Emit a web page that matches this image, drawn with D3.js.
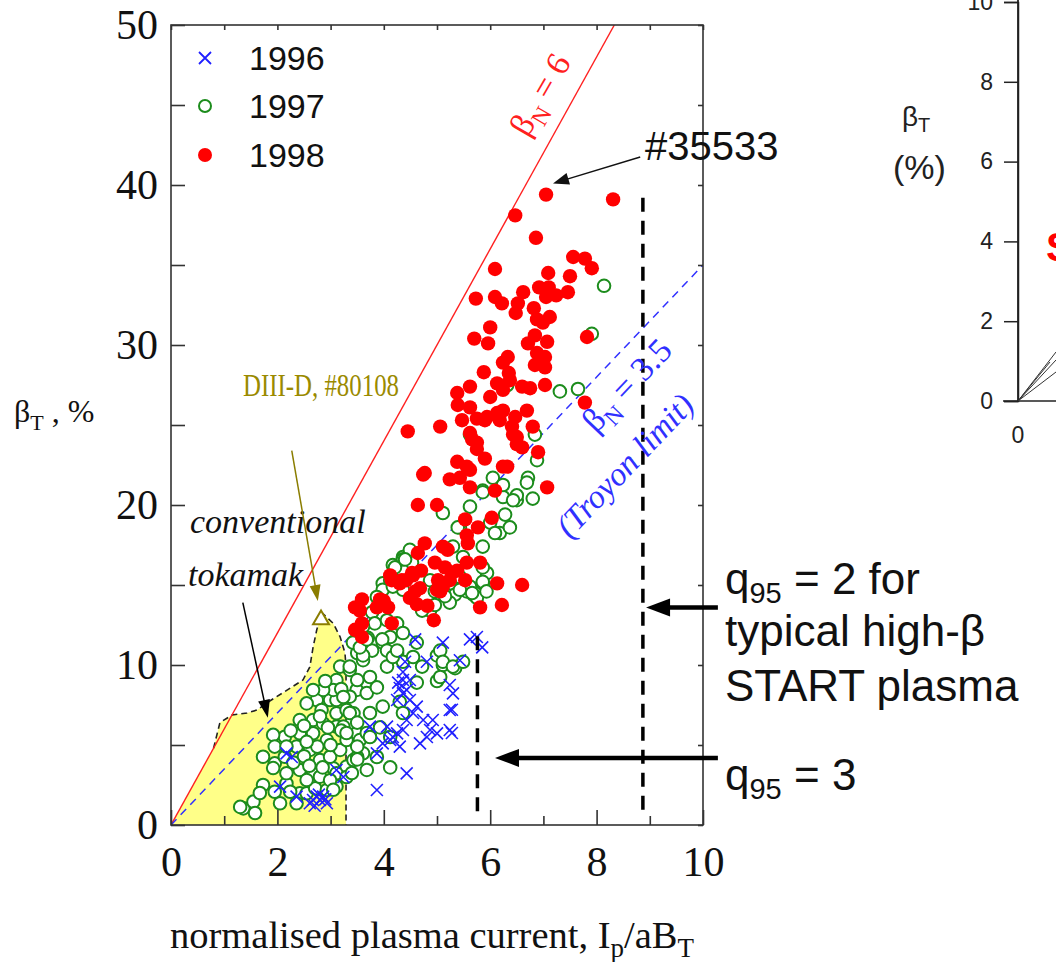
<!DOCTYPE html>
<html><head><meta charset="utf-8">
<script src="https://cdn.jsdelivr.net/npm/d3@7"></script>
<style>body{margin:0;background:#fff;overflow:hidden}svg{display:block}</style>
</head><body><svg id="c" width="1056" height="962"></svg>
<script>
// ---------------- DATA ----------------
const xTicks = [0, 2, 4, 6, 8, 10];
const yTicks = [0, 10, 20, 30, 40, 50];
const legendYears = ["1996", "1997", "1998"];

const s1996 = [[5.11,11.4],[5.43,10.3],[5.75,11.75],[5.85,11.1],[4.81,10.2],[4.36,9.06],[4.30,8.56],[4.43,8.44],[4.49,9.06],[4.36,8.23],[4.25,7.81],[4.49,7.81],[4.62,7.4],[4.55,7.0],[4.43,6.56],[4.36,5.94],[4.25,5.73],[4.12,5.31],[3.98,5.1],[3.87,4.48],[4.17,5.5],[4.30,4.9],[4.74,6.56],[4.92,6.56],[4.87,5.94],[4.81,5.5],[4.68,5.1],[5.0,5.73],[5.24,7.19],[5.3,8.23],[5.24,5.94],[4.43,3.23],[3.87,2.19],[3.74,6.15],[4.06,6.15],[2.74,1.77],[2.80,1.56],[2.86,1.77],[2.61,1.36],[2.67,1.56],[2.93,1.36],[2.36,1.77],[2.17,4.48],[2.05,2.4],[3.11,3.44],[3.24,3.0],[4.59,11.6],[4.36,9.56],[4.27,8.9],[5.24,8.75],[2.27,4.25],[4.4,10.2],[2.7,1.2],[2.78,1.9],[2.9,1.6],[5.62,11.6],[5.28,7.2],[5.28,5.75]];

const s1997 = [[1.36,1.04],[1.55,1.46],[1.73,2.5],[1.95,2.08],[2.17,2.6],[2.42,1.98],[2.05,1.36],[2.36,1.36],[2.55,1.98],[2.71,2.3],[2.93,2.19],[3.11,2.4],[3.05,3.54],[2.67,3.23],[2.42,3.44],[2.17,3.23],[1.95,3.85],[1.73,4.27],[2.14,4.27],[2.36,4.9],[2.61,4.69],[2.80,4.06],[2.99,4.27],[3.18,4.69],[2.93,5.31],[2.67,5.73],[2.42,5.73],[2.14,5.52],[1.92,5.63],[1.95,4.9],[2.17,4.9],[2.42,6.56],[2.67,6.56],[2.86,6.35],[3.11,6.98],[2.99,7.81],[2.74,7.81],[2.55,7.6],[2.83,7.19],[3.11,7.81],[3.30,7.19],[3.43,6.98],[3.11,9.06],[3.18,9.9],[3.36,9.69],[3.55,8.85],[3.68,8.85],[3.49,8.44],[3.36,8.02],[3.05,8.44],[2.86,8.44],[2.67,8.44],[3.11,6.15],[3.24,6.15],[3.30,5.31],[3.49,5.73],[3.55,5.31],[3.61,4.48],[3.68,3.44],[3.74,5.52],[3.30,3.65],[3.43,4.06],[3.11,3.23],[2.80,3.02],[2.55,2.81],[2.24,2.08],
[1.30,1.13],[1.58,0.75],[1.67,2.0],[1.92,3.56],
[2.3,3.9],[2.5,4.3],[2.75,4.9],[3.0,5.0],[2.6,3.7],[2.85,3.6],[3.2,5.9],[2.95,6.1],[2.5,6.2],[2.25,5.9],[3.2,8.5],[2.9,9.0],[2.55,5.2],[2.8,6.8],
[3.5,10.75],[3.36,9.9],[3.61,10.3],[3.74,9.25],[3.5,9.06],[3.68,8.25],[3.87,8.6],[3.98,11.4],[4.12,11.75],[4.25,10.75],[4.06,9.9],[3.24,8.0],[3.36,7.0],[3.5,6.4],[3.3,5.75],[3.74,7.0],[3.68,5.75],[3.5,4.25],[3.3,3.0],[2.99,2.8],[3.05,2.2],
[4.36,10.2],[5.0,10.6],[5.11,10.0],[5.34,9.8],[5.0,9.0],[4.62,8.9],[3.98,7.4],[4.3,7.7],[4.36,7.0],[3.74,5.5],[3.93,6.1],[4.12,5.5],[3.87,4.25],[4.12,3.6],[3.5,4.9],[3.5,4.1],[3.4,3.25],
[3.78,13.3],[3.83,12.6],[3.70,11.7],[3.78,10.9],[3.61,10.6],[3.97,11.6],[4.06,10.9],[4.17,10.5],[4.62,11.4],[5.06,10.9],[5.11,10.2],[5.3,9.9],[5.49,10.2],[4.25,10.9],[4.55,10.5],[4.72,9.9],[5.06,9.25],
[4.36,16.75],[4.17,16.25],[4.53,16.4],[3.98,15.1],[4.21,15.3],[5.28,15.1],[5.47,14.9],[5.56,14.6],[5.34,14.4],[5.24,13.9],[5.68,14.4],[5.86,15.1],[5.94,15.75],[4.87,13.4],[4.96,13.75],[4.72,13.4],
[5.11,19.5],[5.62,19.9],[5.86,20.9],[6.24,20.5],[6.5,20.3],[6.0,18.9],[6.18,18.25],[5.86,17.4],[6.37,18.6],[5.43,18.6],[5.3,17.4],[5.49,16.75],[5.86,16.1],[5.43,15.5],[5.62,14.9],[5.75,14.2],
[4.36,16.6],[4.49,17.2],[4.12,15.3],[4.36,14.7],[3.98,14.7],[3.87,14.25],[4.06,12.8],[4.25,12.6],[4.36,12.0],[3.61,12.4],[3.5,12.0],[3.42,11.4],[3.55,11.1],[3.68,11.6],
[8.14,33.7],[7.91,30.7],[7.31,27.1],[7.65,27.25],[6.32,27.5],[5.62,24.4],[6.84,24.4],[6.88,22.8],[6.05,21.7],[6.71,21.7],[6.24,21.25],[5.86,20.8],[6.69,21.4],[6.8,20.4],[6.5,20.6],[6.43,20.3],[6.28,19.4],[6.09,18.25],[5.39,18.6],[4.21,16.1],[4.4,16.6],[4.17,14.9],[5.43,14.7],[5.66,14.5],[5.86,15.2],[5.93,14.6],[4.87,15.3],[4.96,14.6],[5.15,14.3]];

const s1998 = [[7.05,39.4],[8.31,39.1],[6.47,38.1],[6.86,36.7],[7.56,35.5],[7.78,35.4],[7.91,34.8],[6.09,34.75],[7.09,34.5],[7.5,34.3],[6.92,33.6],[7.1,33.6],[6.62,33.3],[7.46,33.3],[7.24,33.1],[5.73,32.9],[6.09,33.0],[6.22,32.6],[7.05,33.0],[6.52,32.6],[6.82,32.3],[6.48,32.0],[7.12,31.75],[6.88,31.6],[6.99,31.4],[6.0,31.1],[5.70,30.4],[5.96,30.1],[6.84,30.6],[6.71,30.1],[7.07,30.2],[7.82,30.5],[6.88,29.5],[7.03,29.25],[6.33,29.25],[6.24,28.9],[6.84,28.75],[7.03,28.6],[5.88,28.3],[6.35,28.25],[5.62,27.4],[6.13,27.6],[6.6,27.4],[6.75,27.3],[7.03,27.5],[6.24,27.2],
[5.38,27.0],[5.39,26.25],[5.47,25.3],[5.06,24.9],[4.45,24.6],[5.75,25.4],[5.94,25.5],[6.13,25.75],[6.0,26.75],[6.37,27.8],[6.24,25.9],[6.47,25.5],[6.69,25.9],[6.41,24.9],[6.8,24.9],[6.5,24.25],[6.6,23.6],[6.9,23.3],[7.78,26.4],[5.75,23.9],[5.62,24.5],[5.38,22.7],[4.74,21.9],[5.56,22.4],[6.24,22.4],[5.62,26.1],[5.9,25.3],[6.18,25.3],[6.43,24.4],[6.5,23.8],[5.66,24.1],[5.75,23.5],[5.9,22.9],[5.62,22.2],[4.77,22.0],[5.24,21.6],[5.43,21.7],[5.62,21.1],[6.32,22.4],[6.09,20.9],[7.07,21.1],[4.64,20.0],[5.0,20.0],[5.53,19.1],[5.77,18.6],[6.03,19.2],[5.56,18.1],[5.58,17.6],[4.77,17.6],[5.11,17.4],[5.2,17.2],[4.64,17.0],[4.53,15.75],[4.34,15.3],[4.96,16.4],[5.15,16.1],[5.02,15.3],[5.11,14.9],[5.28,15.75],[5.38,15.9],[5.56,16.4],[5.81,16.4],[5.53,15.3],[4.12,15.6],[6.13,15.1],[6.6,15.0],[4.68,14.8],[5.06,14.6],[5.24,15.3],
[5.0,14.7],[4.94,12.8],[5.81,13.6],[6.22,13.75],[3.59,14.1],[3.55,13.4],[3.46,13.6],[3.87,13.6],[4.08,13.6],[4.15,12.6],[3.59,12.6],[3.59,11.75],[3.46,12.2],[3.93,14.1],[4.15,15.3],[4.3,15.1],[4.42,15.3],[4.55,15.6],[4.7,15.9],[4.59,14.6],[4.49,14.2],[4.62,13.8],[4.82,13.7],[4.0,14.0]];

// conventional tokamak region boundary
const tokamakRegion = [[0,0],[0.8,4.8],[0.92,6.4],[1.15,6.88],[1.43,7.0],[1.62,7.19],[1.80,7.63],[2.48,9.06],[2.61,9.88],[2.67,11.1],[2.74,12.2],[2.84,13.25],[3.05,12.6],[3.18,11.75],[3.27,10.75],[3.29,9.88],[3.29,0]];
const diiid = [2.82, 12.9];
const betaNLimit = 6, troyon = 3.5;
const q95_3_x = 5.76, q95_2_x = 8.87;

// right (cropped) figure ticks
const rightTicks = [0, 2, 4, 6, 8, 10];

// ---------------- DRAW ----------------
const svg = d3.select("#c");
const SERIF = "Liberation Serif, Times New Roman, serif";
const SANS = "Liberation Sans, Arial, sans-serif";
const x = d3.scaleLinear().domain([0, 10]).range([171, 703]);
const y = d3.scaleLinear().domain([0, 50]).range([825, 25]);

const defs = svg.append("defs");
defs.append("clipPath").attr("id", "plot").append("rect")
  .attr("x", x(0)).attr("y", y(50)).attr("width", x(10) - x(0)).attr("height", y(0) - y(50));

// yellow region
svg.append("path").datum(tokamakRegion)
  .attr("d", d3.line().x(d => x(d[0])).y(d => y(d[1])))
  .attr("fill", "#ffff88").attr("stroke", "none");
svg.append("path").datum(tokamakRegion.slice(1))
  .attr("d", d3.line().x(d => x(d[0])).y(d => y(d[1])))
  .attr("fill", "none").attr("stroke", "#222").attr("stroke-width", 1.6).attr("stroke-dasharray", "6,4");

const plot = svg.append("g").attr("clip-path", "url(#plot)");
// beta_N lines
plot.append("line").attr("x1", x(0)).attr("y1", y(0)).attr("x2", x(50 / betaNLimit)).attr("y2", y(50))
  .attr("stroke", "#ff2020").attr("stroke-width", 1.4);
plot.append("line").attr("x1", x(0)).attr("y1", y(0)).attr("x2", x(10)).attr("y2", y(10 * troyon))
  .attr("stroke", "#3030ff").attr("stroke-width", 1.5).attr("stroke-dasharray", "8,6");

// green circles 1997
plot.append("g").selectAll("circle").data(s1997).join("circle")
  .attr("cx", d => x(d[0])).attr("cy", d => y(d[1])).attr("r", 6.3)
  .attr("fill", "#fff").attr("stroke", "#1c8c1c").attr("stroke-width", 2);
// blue crosses 1996
const cr = 6;
plot.append("g").selectAll("path").data(s1996).join("path")
  .attr("d", d => `M${x(d[0]) - cr},${y(d[1]) - cr}L${x(d[0]) + cr},${y(d[1]) + cr}M${x(d[0]) - cr},${y(d[1]) + cr}L${x(d[0]) + cr},${y(d[1]) - cr}`)
  .attr("stroke", "#2020ff").attr("stroke-width", 1.6).attr("fill", "none");
// red dots 1998
plot.append("g").selectAll("circle").data(s1998).join("circle")
  .attr("cx", d => x(d[0])).attr("cy", d => y(d[1])).attr("r", 7.2)
  .attr("fill", "#ff0000");

// DIII-D triangle
const tri = d3.symbol().type(d3.symbolTriangle).size(110);
svg.append("path").attr("d", tri()).attr("transform", `translate(${x(diiid[0])},${y(diiid[1]) + 1})`)
  .attr("fill", "#fff").attr("stroke", "#8a7d00").attr("stroke-width", 2);

// vertical dashed q95 lines
svg.append("line").attr("x1", x(q95_3_x)).attr("x2", x(q95_3_x)).attr("y1", y(11.8)).attr("y2", y(0.45))
  .attr("stroke", "#000").attr("stroke-width", 3.5).attr("stroke-dasharray", "14,9");
svg.append("line").attr("x1", x(q95_2_x)).attr("x2", x(q95_2_x)).attr("y1", y(39.2)).attr("y2", y(0.45))
  .attr("stroke", "#000").attr("stroke-width", 3.5).attr("stroke-dasharray", "14,9");

// frame
svg.append("rect").attr("x", x(0)).attr("y", y(50)).attr("width", x(10) - x(0)).attr("height", y(0) - y(50))
  .attr("fill", "none").attr("stroke", "#333").attr("stroke-width", 1.6);

function styleAxis(g, size) {
  g.select(".domain").remove();
  g.attr("font-family", SERIF).attr("font-size", size);
  g.selectAll("line").attr("stroke", "#333").attr("stroke-width", 1.6);
  g.selectAll("text").attr("fill", "#111");
}
svg.append("g").attr("transform", `translate(0,${y(0)})`)
  .call(d3.axisBottom(x).tickValues(xTicks).tickSize(-15).tickPadding(21).tickFormat(d3.format("d")))
  .call(g => styleAxis(g, 42));
svg.append("g").attr("transform", `translate(0,${y(0)})`)
  .call(d3.axisBottom(x).tickValues([1, 3, 5, 7, 9]).tickSize(-9).tickFormat(""))
  .call(g => styleAxis(g, 42));
svg.append("g").attr("transform", `translate(0,${y(50)})`)
  .call(d3.axisTop(x).ticks(10).tickSize(-5).tickFormat(""))
  .call(g => styleAxis(g, 42));
svg.append("g").attr("transform", `translate(${x(0)},0)`)
  .call(d3.axisLeft(y).tickValues(d3.range(0, 51, 5)).tickSize(-14).tickPadding(13)
    .tickFormat(d => yTicks.includes(d) ? d : ""))
  .call(g => styleAxis(g, 42));
svg.append("g").attr("transform", `translate(${x(10)},0)`)
  .call(d3.axisRight(y).tickValues(d3.range(0, 51, 5)).tickSize(-5).tickFormat(""))
  .call(g => styleAxis(g, 42));

// axis titles
const yt = svg.append("text").attr("x", 14).attr("y", 422).attr("font-family", SERIF).attr("font-size", 32).attr("fill", "#111");
yt.append("tspan").text("β");
yt.append("tspan").attr("font-size", 22).attr("dy", 8).text("T");
yt.append("tspan").attr("dy", -8).text(" , %");

const xt = svg.append("text").attr("x", 432).attr("y", 948).attr("text-anchor", "middle")
  .attr("font-family", SERIF).attr("font-size", 38.5).attr("fill", "#111");
xt.append("tspan").text("normalised plasma current, I");
xt.append("tspan").attr("font-size", 27).attr("dy", 9).text("p");
xt.append("tspan").attr("dy", -9).text("/aB");
xt.append("tspan").attr("font-size", 27).attr("dy", 9).text("T");

// legend
const lg = svg.append("g");
const legY = [58, 106, 155];
lg.append("path").attr("d", `M${205 - 6},${legY[0] - 6}L${205 + 6},${legY[0] + 6}M${205 - 6},${legY[0] + 6}L${205 + 6},${legY[0] - 6}`)
  .attr("stroke", "#2020ff").attr("stroke-width", 1.8);
lg.append("circle").attr("cx", 205).attr("cy", legY[1]).attr("r", 6).attr("fill", "#fff").attr("stroke", "#1c8c1c").attr("stroke-width", 2);
lg.append("circle").attr("cx", 205).attr("cy", legY[2]).attr("r", 7).attr("fill", "#ff0000");
legendYears.forEach((t, i) => {
  lg.append("text").attr("x", 249).attr("y", legY[i] + 12).attr("font-family", SANS).attr("font-size", 34).attr("fill", "#111").text(t);
});

// rotated line labels
function rotLabel(cx, cy, ang, size, color, parts, italic) {
  const t = svg.append("text").attr("transform", `translate(${cx},${cy}) rotate(${ang})`)
    .attr("text-anchor", "middle").attr("font-family", SERIF).attr("font-size", size).attr("fill", color)
    .attr("font-style", italic ? "italic" : "normal");
  parts.forEach(p => {
    const s = t.append("tspan").text(p[0]);
    if (p[1] === "sub") s.attr("font-size", size * 0.7).attr("dy", size * 0.25);
    if (p[1] === "up") s.attr("dy", -size * 0.25);
  });
}
rotLabel(x(7.12), y(45.3), -60, 34, "#ff2020", [["β"], ["N", "sub"], [" = 6", "up"]], false);
rotLabel(x(8.72), y(27.0), -46.5, 34, "#3030ff", [["β"], ["N", "sub"], [" = 3.5", "up"]], false);
rotLabel(x(8.68), y(22.0), -46.5, 33, "#3030ff", [["(Troyon limit)"]], true);

// annotation texts
svg.append("text").attr("x", 243).attr("y", 396).attr("font-family", SERIF).attr("font-size", 31)
  .attr("textLength", 156).attr("lengthAdjust", "spacingAndGlyphs")
  .attr("fill", "#9a8a00").text("DIII-D, #80108");
svg.append("text").attr("x", 190).attr("y", 533).attr("font-family", SERIF).attr("font-size", 34)
  .attr("font-style", "italic").attr("fill", "#111").text("conventional");
svg.append("text").attr("x", 188).attr("y", 586).attr("font-family", SERIF).attr("font-size", 34)
  .attr("font-style", "italic").attr("fill", "#111").text("tokamak");
svg.append("text").attr("x", 645).attr("y", 160).attr("font-family", SANS).attr("font-size", 40)
  .attr("fill", "#111").text("#35533");

function qText(xx, yy, rest) {
  const t = svg.append("text").attr("x", xx).attr("y", yy).attr("font-family", SANS).attr("font-size", 44).attr("fill", "#111");
  t.append("tspan").text("q");
  t.append("tspan").attr("font-size", 29).attr("dy", 9).text("95");
  t.append("tspan").attr("dy", -9).text(rest);
}
qText(725, 594, " = 2 for");
svg.append("text").attr("x", 725).attr("y", 646).attr("font-family", SANS).attr("font-size", 44).attr("fill", "#111").text("typical high-β");
svg.append("text").attr("x", 725).attr("y", 701).attr("font-family", SANS).attr("font-size", 44).attr("fill", "#111").text("START plasma");
qText(725, 790, " = 3");

// arrows
function arrow(x1, y1, x2, y2, sw, hl, hw, col) {
  const dx = x2 - x1, dy = y2 - y1, L = Math.hypot(dx, dy), ux = dx / L, uy = dy / L;
  const bx = x2 - ux * hl, by = y2 - uy * hl;
  svg.append("line").attr("x1", x1).attr("y1", y1).attr("x2", bx + ux * 2).attr("y2", by + uy * 2)
    .attr("stroke", col).attr("stroke-width", sw);
  svg.append("path").attr("d", `M${x2},${y2}L${bx - uy * hw / 2},${by + ux * hw / 2}L${bx + uy * hw / 2},${by - ux * hw / 2}Z`).attr("fill", col);
}
arrow(x(10.28), y(13.6), x(8.93), y(13.6), 4.5, 24, 18, "#000");
arrow(x(10.28), y(4.19), x(6.09), y(4.19), 4.5, 24, 18, "#000");
arrow(x(8.82), y(41.75), x(7.18), y(40.1), 1.5, 16, 12, "#111");
arrow(x(2.27), y(23.4), x(2.76), y(14.0), 1.5, 16, 11, "#8a7d00");
arrow(x(1.35), y(13.9), x(1.82), y(6.7), 1.5, 18, 12, "#000");

// ---------------- right cropped figure ----------------
const yR = d3.scaleLinear().domain([0, 10]).range([401, 2]);
const rg = svg.append("g");
rg.append("g").attr("transform", "translate(1018,0)")
  .call(d3.axisLeft(yR).tickValues(rightTicks).tickSize(14).tickPadding(11))
  .call(g => {
    g.select(".domain").attr("stroke", "#222").attr("stroke-width", 1.5);
    g.attr("font-family", SANS).attr("font-size", 23);
    g.selectAll("line").attr("stroke", "#222").attr("stroke-width", 1.5);
    g.selectAll("text").attr("fill", "#222");
  });
rg.append("line").attr("x1", 1018).attr("x2", 1018).attr("y1", 0).attr("y2", 401).attr("stroke", "#222").attr("stroke-width", 1.8);
rg.append("line").attr("x1", 1003).attr("x2", 1056).attr("y1", yR(0)).attr("y2", yR(0)).attr("stroke", "#222").attr("stroke-width", 1.5);
rg.append("text").attr("x", 1018).attr("y", 443).attr("text-anchor", "middle").attr("font-family", SANS).attr("font-size", 23).attr("fill", "#222").text("0");
const bt = rg.append("text").attr("x", 902).attr("y", 126).attr("font-family", SANS).attr("font-size", 28).attr("fill", "#222");
bt.append("tspan").text("β");
bt.append("tspan").attr("font-size", 20).attr("dy", 6).text("T");
rg.append("text").attr("x", 893).attr("y", 179).attr("font-family", SANS).attr("font-size", 34).attr("fill", "#222").text("(%)");
[[1056, 352], [1056, 360], [1050, 362], [1056, 372]].forEach(p => {
  rg.append("line").attr("x1", 1018).attr("y1", yR(0)).attr("x2", p[0]).attr("y2", p[1]).attr("stroke", "#333").attr("stroke-width", 1);
});
rg.append("text").attr("x", 1046).attr("y", 261).attr("font-family", SANS).attr("font-size", 40).attr("font-weight", "bold").attr("fill", "#ff0000").text("S");
</script>
</body></html>
